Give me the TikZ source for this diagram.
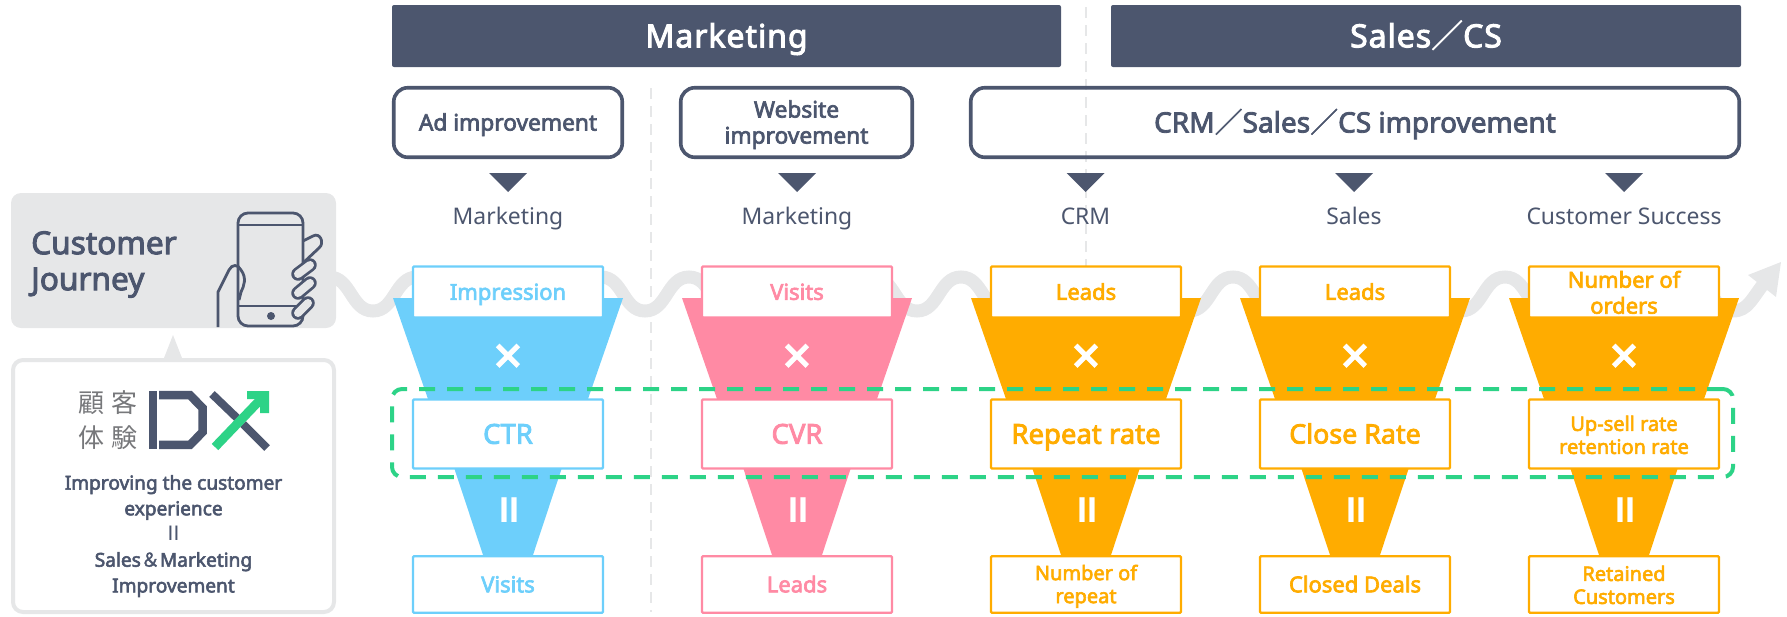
\documentclass[tikz,border=0pt]{standalone}
\usepackage{fontspec}
\setmainfont{Noto Sans}[AutoFakeBold=3]
\newfontfamily\cjk{Noto Sans CJK JP}[AutoFakeBold=1.5]
\newfontfamily\plainsans{Liberation Sans}
\definecolor{navy}{HTML}{4C566E}
\definecolor{skyb}{HTML}{6DCFFB}
\definecolor{pinkb}{HTML}{FF8AA4}
\definecolor{orng}{HTML}{FFAC00}
\definecolor{grn}{HTML}{2DD387}
\definecolor{pale}{HTML}{E6E7E8}
\definecolor{kanji}{HTML}{77787B}
\newcommand{\fz}[2]{\fontsize{#1}{#2}\selectfont}
\newcommand{\ph}{\rule{0pt}{.95em}\vphantom{g}}
\tikzset{
  header/.style={fill=navy,rounded corners=2,inner sep=0,text=white,font=\fz{32}{38}\bfseries\addfontfeature{LetterSpace=3},minimum height=62},
  topic/.style={draw=navy,fill=white,line width=3.6,rounded corners=14,inner sep=0,align=center,text=navy,font=\fz{22.7}{26}\bfseries,minimum height=69.5},
  stagebox/.style={draw=#1,text=#1,fill=white,line width=2.2,rounded corners=1,inner sep=0,align=center,minimum width=190,font=\fz{22}{26}\bfseries},
  stagelabel/.style={text=navy,inner sep=0,font=\fz{22.9}{26}},
  sign/.style={text=white,inner sep=0,font=\bfseries},
  guide/.style={draw=pale,line width=2,dash pattern=on 11pt off 7pt},
}
\begin{document}
\begin{tikzpicture}[x=1pt,y=-1pt]
\useasboundingbox (0,0) rectangle (1787,616);
% guides
\coordinate (g1a) at (651,88); \coordinate (g1b) at (651,612);
\coordinate (g2a) at (1085.5,7); \coordinate (g2b) at (1085.5,616);
\draw[guide] (g1a) -- (g1b);
\draw[guide] (g2a) -- (g2b);
% journey wave
\draw[pale,line width=13]
  (329,277) .. controls (351,277) and (351,311) .. (373,311) .. controls (395,311) and (395,277) .. (417,277)
  .. controls (439,277) and (439,311) .. (461,311) -- (557,311) .. controls (579,311) and (579,277) .. (601,277)
  .. controls (623,277) and (623,311) .. (645,311) .. controls (667,311) and (667,277) .. (689,277)
  .. controls (711,277) and (711,311) .. (733,311) -- (829,311) .. controls (851,311) and (851,277) .. (873,277)
  .. controls (895,277) and (895,311) .. (917,311) .. controls (939,311) and (939,277) .. (961,277)
  .. controls (983,277) and (983,311) .. (1005,311) -- (1101,311) .. controls (1123,311) and (1123,277) .. (1145,277)
  .. controls (1167,277) and (1167,311) .. (1189,311) .. controls (1211,311) and (1211,277) .. (1233,277)
  .. controls (1255,277) and (1255,311) .. (1277,311) -- (1373,311) .. controls (1395,311) and (1395,277) .. (1417,277)
  .. controls (1439,277) and (1439,311) .. (1461,311) .. controls (1483,311) and (1483,277) .. (1505,277)
  .. controls (1527,277) and (1527,311) .. (1549,311) -- (1645,311) .. controls (1667,311) and (1667,277) .. (1689,277)
  .. controls (1711,277) and (1711,311) .. (1733,311) .. controls (1748,311) and (1752,298) .. (1765,282);
\fill[pale] (1781,262) -- (1748,275) -- (1776,297) -- cycle;
% funnels
\foreach \c/\col in {508/skyb,797/pinkb,1086/orng,1355/orng,1624/orng}{
  \fill[\col] ({\c-115},298) -- ({\c+115},298) -- ({\c+80},399) -- ({\c-80},399) -- cycle;
  \fill[\col] ({\c-53.5},469) -- ({\c+53.5},469) -- ({\c+25},555) -- ({\c-25},555) -- cycle;
  \node[sign,font=\fz{50}{54}\bfseries] at (\c,359) {×};
  \node[sign,font=\plainsans\fz{36}{40}\bfseries] at ({\c+1},510) {II};
}
\foreach \c in {508,797,1085.5,1354,1624}{
  \fill[navy] ({\c-19},173) -- ({\c+19},173) -- (\c,192) -- cycle;
}
% headers
\node[header,minimum width=669] (mk) at (726.5,36) {\ph Marketing};
\node[header,minimum width=630] (sc) at (1426,36) {\ph Sales{\cjk／}CS};
% topics
\node[topic,minimum width=228.5] (ad) at (508,122.5) {\ph Ad improvement};
\node[topic,minimum width=231.5] (web) at (796.5,122.5) {\ph Website\\improvement};
\node[topic,fill=none,minimum width=768.5,font=\fz{28}{32}\bfseries] (crm) at (1355,122.5) {\ph CRM{\cjk／}Sales{\cjk／}CS improvement};
% stage labels
\node[stagelabel] (l1) at (508,216) {\ph Marketing};
\node[stagelabel] (l2) at (797,216) {\ph Marketing};
\node[stagelabel] (l3) at (1085.5,216) {\ph CRM};
\node[stagelabel] (l4) at (1354,216) {\ph Sales};
\node[stagelabel] (l5) at (1624,216) {\ph Customer Success};
% stage boxes
\tikzset{r1/.style={minimum height=51},r2/.style={minimum height=69},r3/.style={minimum height=56.5},big/.style={font=\fz{27.5}{32}\bfseries}}
\node[stagebox=skyb,r1] (a1) at (508,292) {\ph Impression};
\node[stagebox=skyb,r2,big] (a2) at (508,434) {\ph CTR};
\node[stagebox=skyb,r3] (a3) at (508,584.5) {\ph Visits};
\node[stagebox=pinkb,r1] (b1) at (797,292) {\ph Visits};
\node[stagebox=pinkb,r2,big] (b2) at (797,434) {\ph CVR};
\node[stagebox=pinkb,r3] (b3) at (797,584.5) {\ph Leads};
\node[stagebox=orng,r1] (c1) at (1086,292) {\ph Leads};
\node[stagebox=orng,r2,big] (c2) at (1086,434) {\ph Repeat rate};
\node[stagebox=orng,r3,font=\fz{20}{23}\bfseries] (c3) at (1086,584.5) {\ph Number of\\repeat};
\node[stagebox=orng,r1] (d1) at (1355,292) {\ph Leads};
\node[stagebox=orng,r2,font=\fz{26.8}{32}\bfseries] (d2) at (1355,434) {\ph Close Rate};
\node[stagebox=orng,r3] (d3) at (1355,584.5) {\ph Closed Deals};
\node[stagebox=orng,r1] (e1) at (1624,292) {\rule{0pt}{.8em}Number of\\orders};
\node[stagebox=orng,r2,font=\fz{20}{23}\bfseries] (e2) at (1624,434) {\rule{0pt}{.85em}Up-sell rate\\retention rate};
\node[stagebox=orng,r3,font=\fz{20}{23}\bfseries] (e3) at (1624,584.5) {\rule{0pt}{.8em}Retained\\Customers};
% green highlight
\node[draw=grn,line width=4,dash pattern=on 16pt off 12pt,rounded corners=10,minimum width=1341,minimum height=88,inner sep=0] (hl) at (1062.5,433) {};
% customer journey box
\node[fill=pale,rounded corners=10,minimum width=325,minimum height=135,inner sep=0] (cj) at (173.5,260.5) {};
\node[anchor=west,inner sep=0,text=navy,align=left,font=\fz{31.6}{36}\bfseries] (cjt) at (31,264.5) {Customer\\Journey};
% phone icon
\begin{scope}[navy,line width=2.8]
  \draw[rounded corners=10] (238,326) rectangle (303,213);
  \draw (238,225) -- (303,225) (238,306) -- (303,306);
  \fill (271,316) circle (4);
  \draw[line join=round] (218,327) -- (218,292) -- (229,270) .. controls (232,264) and (238,264) .. (241,270) .. controls (247,278) and (244,286) .. (241,292) -- (239,300);
  \draw (303,241) -- (313,236) .. controls (320,232) and (325,243) .. (319,248) -- (303,263);
  \foreach \xa/\ya/\xb/\yb in {298/274/310/265,298/293/310/283,298/313/308/303}{
    \draw[line cap=round,line width=13.5] (\xa,\ya) -- (\xb,\yb);
    \draw[pale,line cap=round,line width=8] (\xa,\ya) -- (\xb,\yb);
  }
\end{scope}
% pointer and lower panel
\fill[pale] (173,335) -- (182,358) -- (164,358) -- cycle;
\node[draw=pale,fill=white,line width=4,rounded corners=10,minimum width=321,minimum height=252,inner sep=0] (panel) at (173.5,486) {};
% logo
\foreach \ch/\x/\y in {顧/91/403,客/124/403,体/91/438,験/124/438}{
  \node[inner sep=0,text=kanji,font=\cjk\fz{26}{28}] at (\x,\y) {\ch};
}
\fill[navy] (149,391) rectangle (157,449);
\draw[navy,line width=8.5,miter limit=10] (159,395.2) -- (190,395.2) -- (202.7,408) -- (202.7,432) -- (190,444.8) -- (159,444.8);
\draw[navy,line width=8] (212,394) -- (237,418) (243,424) -- (267,448);
\draw[grn,line width=9] (215,447) -- (261,399);
\fill[grn] (247,391) -- (269,391) -- (269,413) -- (260,413) -- (260,399) -- (247,399) -- cycle;
\node[inner sep=0,text=navy,align=center,font=\fz{19.1}{25.7}\bfseries] (ptxt) at (173.5,536) {Improving the customer\\experience\\{\plainsans\mdseries\fz{21}{25.7}II}\\Sales{\cjk＆}Marketing\\Improvement};
\end{tikzpicture}
\end{document}
